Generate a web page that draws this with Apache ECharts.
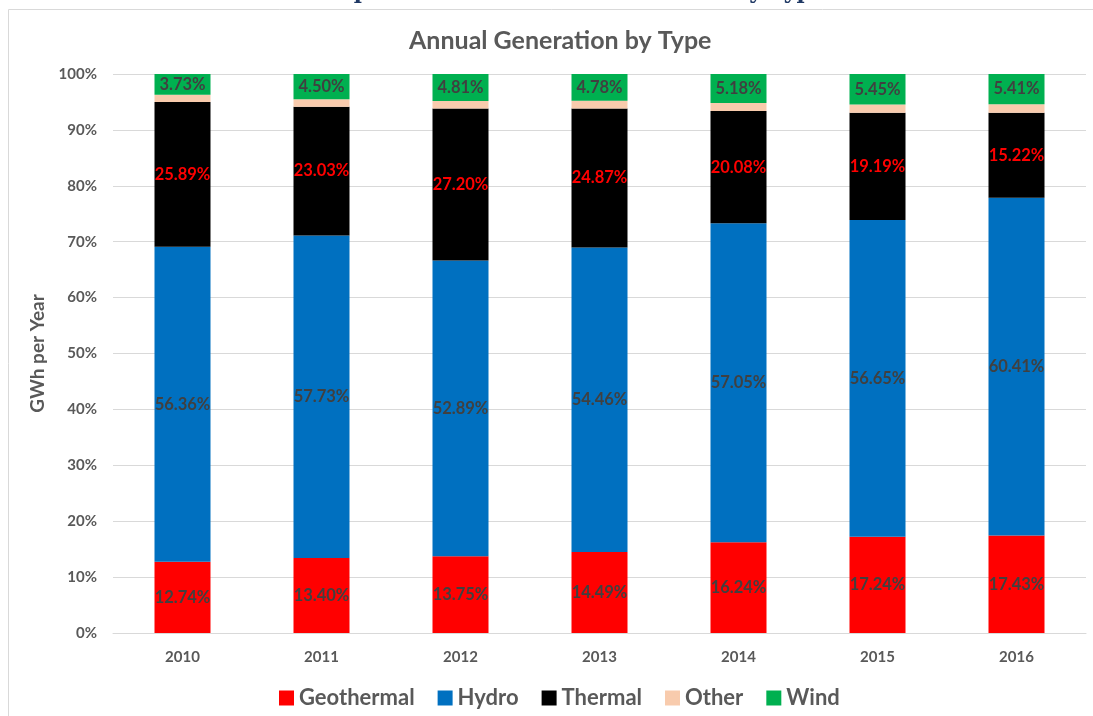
<!DOCTYPE html>
<html><head><meta charset="utf-8">
<script src="https://cdn.jsdelivr.net/npm/echarts@6/dist/echarts.min.js"></script>
<style>html,body{margin:0;padding:0;background:#fff}#c{width:1093px;height:716px}</style>
</head><body><div id="c"></div>
<script>
const years = ['2010','2011','2012','2013','2014','2015','2016'];
const geothermal = [12.74, 13.40, 13.75, 14.49, 16.24, 17.24, 17.43];
const hydro = [56.36, 57.73, 52.89, 54.46, 57.05, 56.65, 60.41];
const thermal = [25.89, 23.03, 27.20, 24.87, 20.08, 19.19, 15.22];
const other = [1.28, 1.34, 1.35, 1.40, 1.45, 1.47, 1.53];
const wind = [3.73, 4.50, 4.81, 4.78, 5.18, 5.45, 5.41];
const yTicks = [0,10,20,30,40,50,60,70,80,90,100];

const FONT = 'Lato';
function mk(name, data, color, labelColor, showLabel) {
  return {
    name, type: 'bar', stack: 'total', data, barWidth: 56,
    itemStyle: { color },
    label: {
      show: showLabel, position: 'inside', color: labelColor,
      fontFamily: FONT, fontWeight: 'bold', fontSize: 16.5,
      formatter: p => p.value.toFixed(2) + '%'
    },
    emphasis: { disabled: true }
  };
}
const chart = echarts.init(document.getElementById('c'));
chart.setOption({
  animation: false,
  title: {
    text: 'Annual Generation by Type', left: 404, top: 23,
    textStyle: { fontFamily: FONT, fontWeight: 'bold', fontSize: 25, color: '#595959' }
  },
  graphic: [
    { type: 'rect', shape: { x: 8.5, y: 9.5, width: 1100, height: 720 }, style: { fill: 'none', stroke: '#d9d9d9', lineWidth: 1 }, silent: true },
    { type: 'text', x: 562, y: -19, style: { text: 'Composition of Annual Generation by Type', fill: '#1f3864', font: 'bold 22px "DejaVu Serif"', textAlign: 'center' }, silent: true }
  ],
  grid: { left: 113, right: 7, top: 74, bottom: 83 },
  legend: {
    data: ['Geothermal','Hydro','Thermal','Other','Wind'],
    left: 274, top: 682, itemWidth: 15, itemHeight: 15, itemGap: 23,
    icon: 'rect',
    textStyle: { fontFamily: FONT, fontWeight: 'bold', fontSize: 22, color: '#595959' }
  },
  xAxis: {
    type: 'category', data: years,
    axisLine: { lineStyle: { color: '#d9d9d9' } },
    axisTick: { show: false },
    axisLabel: { fontFamily: FONT, fontWeight: 'bold', fontSize: 15, color: '#595959', margin: 17 }
  },
  yAxis: {
    type: 'value', min: 0, max: 100, interval: 10,
    name: 'GWh per Year', nameLocation: 'middle', nameGap: 62, nameRotate: 90,
    nameTextStyle: { fontFamily: FONT, fontWeight: 'bold', fontSize: 19, color: '#595959' },
    axisLabel: { fontFamily: FONT, fontWeight: 'bold', fontSize: 15, color: '#595959', margin: 16,
      formatter: v => yTicks.includes(v) ? v + '%' : '' },
    splitLine: { lineStyle: { color: '#d9d9d9' } }
  },
  series: [
    mk('Geothermal', geothermal, '#ff0000', '#404040', true),
    mk('Hydro', hydro, '#0070c0', '#404040', true),
    mk('Thermal', thermal, '#000000', '#ff0000', true),
    mk('Other', other, '#f8cbad', '#404040', false),
    mk('Wind', wind, '#00b050', '#404040', true)
  ]
});
</script></body></html>
